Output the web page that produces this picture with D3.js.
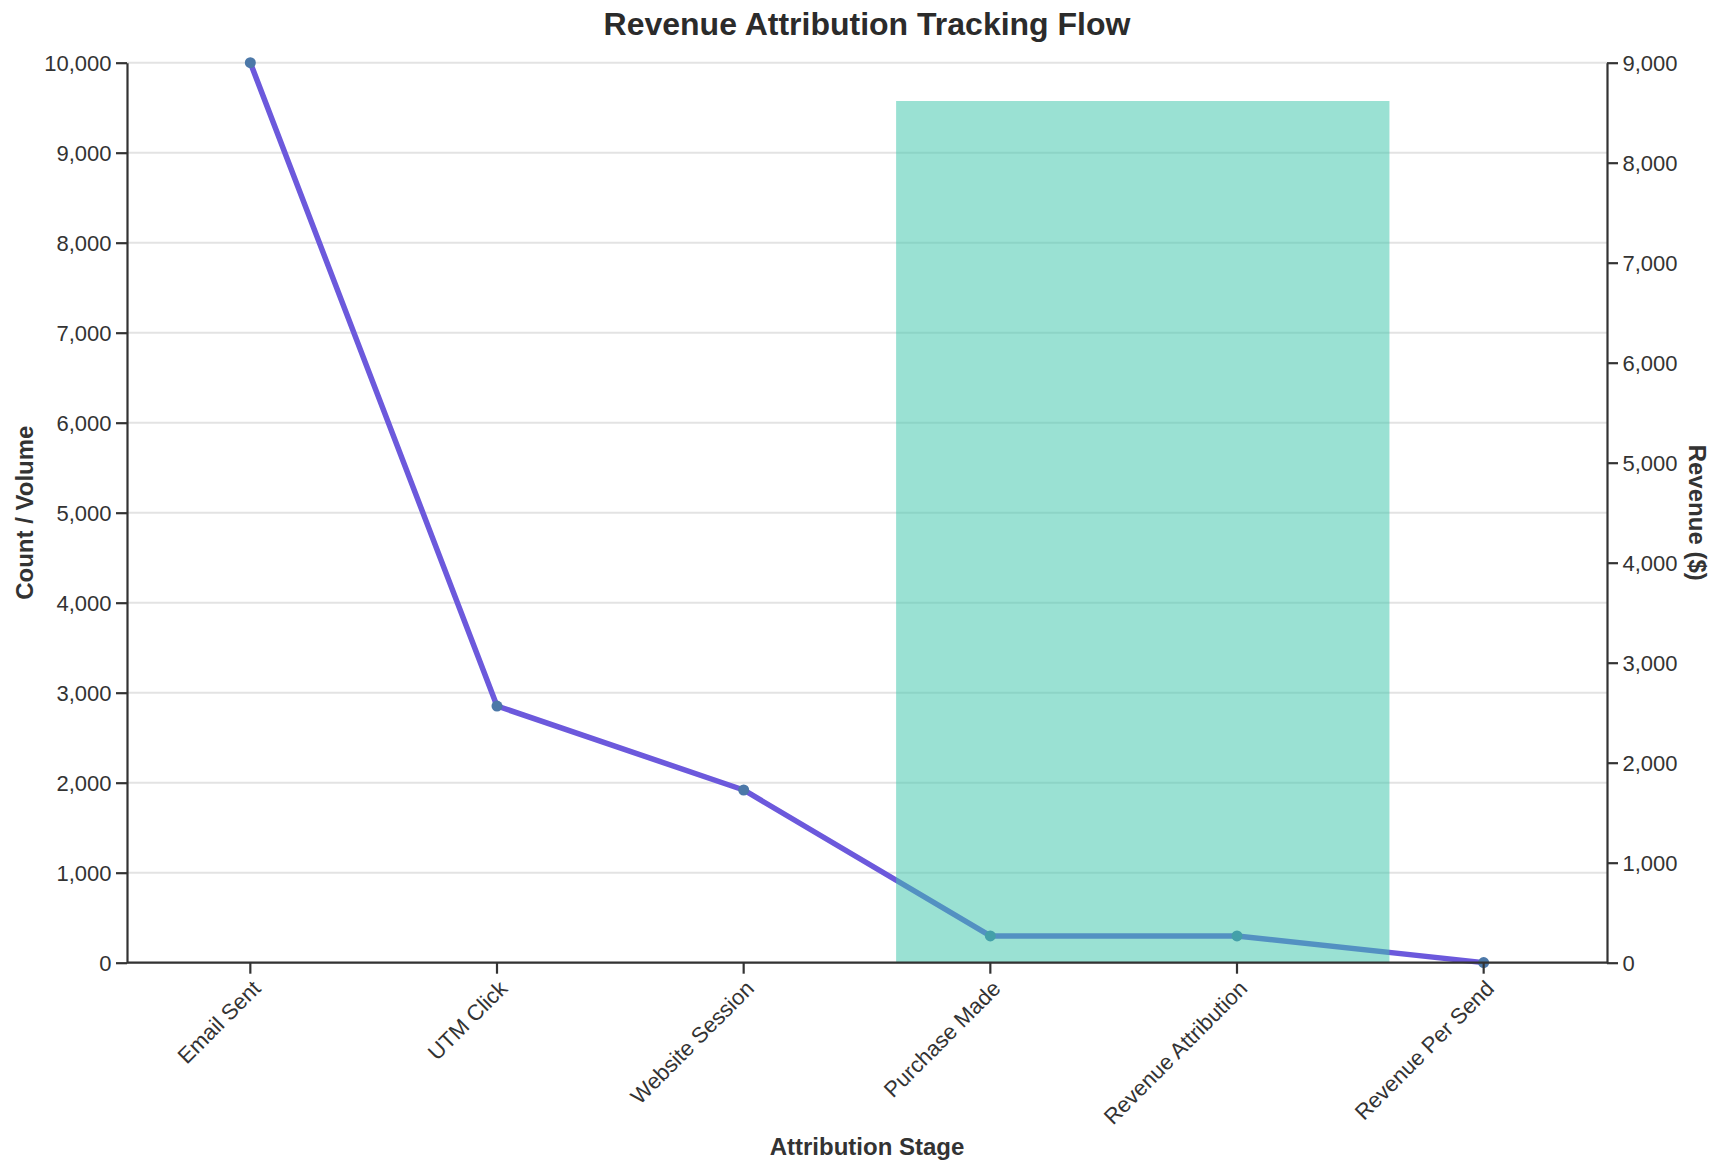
<!DOCTYPE html>
<html>
<head>
<meta charset="utf-8">
<script src="https://cdn.jsdelivr.net/npm/d3@7"></script>
<style>
  html, body { margin: 0; padding: 0; background: #fff; }
  svg { display: block; font-family: "Liberation Sans", Arial, Helvetica, sans-serif; }
</style>
</head>
<body>
<svg id="chart" width="1720" height="1168"></svg>
<script>
// ---- data ----
const stages = ["Email Sent", "UTM Click", "Website Session", "Purchase Made", "Revenue Attribution", "Revenue Per Send"];
const counts = [10000, 2852, 1919, 297, 297, 0.86];
const revenueStage = ["Revenue Attribution"];
const revenueValues = [8617];
const countTicks = [0, 1000, 2000, 3000, 4000, 5000, 6000, 7000, 8000, 9000, 10000];
const revenueTicks = [0, 1000, 2000, 3000, 4000, 5000, 6000, 7000, 8000, 9000];

// ---- layout ----
const W = 1720, H = 1168;
const m = { left: 127, right: W - 1607, top: 62.7, bottom: H - 962.7 };
const iw = W - m.left - m.right, ih = H - m.top - m.bottom;
const tickFont = 22, titleFont = 24, mainFont = 32;
const textColor = "#333";

const svg = d3.select("#chart");
const g = svg.append("g").attr("transform", `translate(${m.left},${m.top})`);

const x = d3.scaleBand().domain(stages).range([0, iw]).paddingInner(0).paddingOuter(0);
const xc = s => x(s) + x.bandwidth() / 2;
const yL = d3.scaleLinear().domain([0, 10000]).range([ih, 0]);
const yR = d3.scaleLinear().domain([0, 9000]).range([ih, 0]);

// grid
g.append("g").selectAll("line").data(countTicks).join("line")
  .attr("x1", 0).attr("x2", iw)
  .attr("y1", d => yL(d)).attr("y2", d => yL(d))
  .attr("stroke", "#e3e3e3").attr("stroke-width", 2);

// line
const lineData = stages.map((s, i) => ({ s, v: counts[i] }));
g.append("path").datum(lineData)
  .attr("fill", "none").attr("stroke", "#6c59dc").attr("stroke-width", 5.5)
  .attr("stroke-linejoin", "round")
  .attr("d", d3.line().x(d => xc(d.s)).y(d => yL(d.v)));

g.append("g").selectAll("circle").data(lineData).join("circle")
  .attr("cx", d => xc(d.s)).attr("cy", d => yL(d.v)).attr("r", 5.5)
  .attr("fill", "#4c78a8");

// revenue bar: two bands wide, starting a little into the previous band
const barStartInBand = 0.118;
const barData = revenueStage.map((s, i) => ({ s, v: revenueValues[i] }));
g.append("g").selectAll("rect").data(barData).join("rect")
  .attr("x", d => x(d.s) - x.step() * (1 - barStartInBand))
  .attr("width", x.step() * 2)
  .attr("y", d => yR(d.v))
  .attr("height", d => ih - yR(d.v))
  .attr("fill", "#3ec6aa").attr("fill-opacity", 0.52);

// axes
function styleAxis(sel) {
  sel.selectAll("path.domain").attr("stroke", "#333").attr("stroke-width", 2.2);
  sel.selectAll(".tick line").attr("stroke", "#333").attr("stroke-width", 2.2);
  sel.selectAll(".tick text").attr("fill", textColor).attr("font-size", tickFont)
     .attr("font-family", "'Liberation Sans', Arial, sans-serif");
}
const fmt = d3.format(",");
const axL = g.append("g")
  .call(d3.axisLeft(yL).tickValues(countTicks).tickFormat(fmt).tickSize(11).tickPadding(4.5).tickSizeOuter(0));
styleAxis(axL);
axL.selectAll(".tick text").attr("dy", "0.35em");

const axR = g.append("g").attr("transform", `translate(${iw},0)`)
  .call(d3.axisRight(yR).tickValues(revenueTicks).tickFormat(fmt).tickSize(11).tickPadding(4.5).tickSizeOuter(0));
styleAxis(axR);
axR.selectAll(".tick text").attr("dy", "0.35em");

const axB = g.append("g").attr("transform", `translate(0,${ih})`)
  .call(d3.axisBottom(x).tickSize(11).tickPadding(4.5).tickSizeOuter(0));
styleAxis(axB);
axB.selectAll(".tick text")
  .attr("text-anchor", "end")
  .attr("dy", "0.75em")
  .attr("x", 0)
  .attr("y", 0)
  .attr("transform", `translate(0,15.5) rotate(-45)`);
axB.select("path.domain").attr("d", `M0,0H${iw}`);

// titles
svg.append("text").attr("x", m.left + iw / 2).attr("y", 35)
  .attr("text-anchor", "middle").attr("font-size", mainFont).attr("font-weight", "bold")
  .attr("fill", "#2b2b2b").text("Revenue Attribution Tracking Flow");

svg.append("text").attr("x", m.left + iw / 2).attr("y", 1155)
  .attr("text-anchor", "middle").attr("font-size", titleFont).attr("font-weight", "bold")
  .attr("fill", textColor).text("Attribution Stage");

svg.append("text")
  .attr("transform", `translate(24,${m.top + ih / 2}) rotate(-90)`)
  .attr("text-anchor", "middle").attr("dominant-baseline", "central")
  .attr("font-size", titleFont).attr("font-weight", "bold")
  .attr("fill", textColor).text("Count / Volume");

svg.append("text")
  .attr("transform", `translate(1697,${m.top + ih / 2}) rotate(90)`)
  .attr("text-anchor", "middle").attr("dominant-baseline", "central")
  .attr("font-size", titleFont).attr("font-weight", "bold")
  .attr("fill", textColor).text("Revenue ($)");
</script>
</body>
</html>
